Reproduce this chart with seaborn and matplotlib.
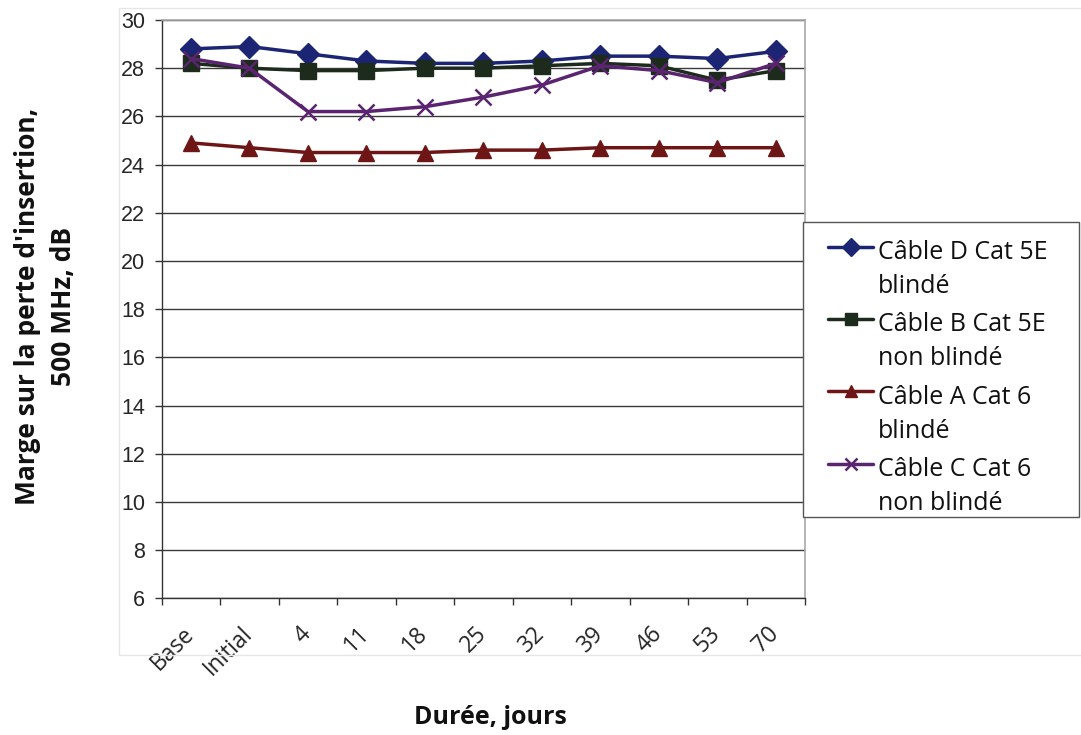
import matplotlib
matplotlib.use("Agg")
import matplotlib.pyplot as plt
import matplotlib.transforms as mtransforms
from matplotlib.patches import Rectangle
from matplotlib.legend_handler import HandlerLine2D
import seaborn as sns
import numpy as np

categories = ["Base", "Initial", "4", "11", "18", "25", "32", "39", "46", "53", "70"]
cable_d = [28.8, 28.9, 28.6, 28.3, 28.2, 28.2, 28.3, 28.5, 28.5, 28.4, 28.7]
cable_b = [28.2, 28.0, 27.9, 27.9, 28.0, 28.0, 28.1, 28.2, 28.1, 27.5, 27.9]
cable_a = [24.9, 24.7, 24.5, 24.5, 24.5, 24.6, 24.6, 24.7, 24.7, 24.7, 24.7]
cable_c = [28.4, 28.0, 26.2, 26.2, 26.4, 26.8, 27.3, 28.1, 27.9, 27.4, 28.2]
series_names = ["Câble D Cat 5E\nblindé", "Câble B Cat 5E\nnon blindé",
                "Câble A Cat 6\nblindé", "Câble C Cat 6\nnon blindé"]
y_ticks = list(range(6, 31, 2))

sns.set_theme(style="white")
plt.rcParams['font.family'] = ['Open Sans', 'DejaVu Sans']

W, H = 1081, 735
fig = plt.figure(figsize=(W / 100, H / 100), dpi=100)

# faint outer chart-area frame
fig.patches.append(Rectangle((119 / W, 1 - 655 / H), (W + 5 - 119) / W, (655 - 8) / H,
                             transform=fig.transFigure, fill=False,
                             edgecolor="#e6e6e6", linewidth=1.0, zorder=0))

ax = fig.add_axes([161.7 / W, 1 - 598.3 / H, (805 - 161.7) / W, (598.3 - 20) / H])

xpos = np.arange(len(categories))
styles = [
    (cable_d, "#1c2573", "D", 11, 1.0),
    (cable_b, "#1d2b1d", "s", 11, 1.0),
    (cable_a, "#6e1616", "^", 11, 1.0),
    (cable_c, "#5a2470", "x", 11, 1.8),
]
for (vals, col, mk, ms, mew), name in zip(styles, series_names):
    sns.lineplot(x=xpos, y=vals, ax=ax, color=col, marker=mk, markersize=ms,
                 markeredgewidth=mew, markeredgecolor=col, linewidth=2.5,
                 label=name, zorder=3)

ax.set_xlim(-0.5, len(categories) - 0.5)
ax.set_ylim(6, 30)
ax.set_yticks(y_ticks)
ax.set_yticklabels([str(t) for t in y_ticks], family=['Liberation Sans'], fontsize=15.5)
ax.yaxis.grid(True, color="#3a3a3a", linewidth=1.0)
ax.set_axisbelow(True)

ax.set_xticks(xpos)
ax.set_xticks(np.arange(-0.5, len(categories), 1.0), minor=True)
ax.tick_params(axis="x", which="major", length=0, pad=17)
ax.tick_params(axis="x", which="minor", length=5, width=1, color="#333333",
               direction="out", bottom=True)
ax.tick_params(axis="y", length=5, width=1, color="#333333", direction="out",
               left=True, pad=7)
ax.set_xticklabels(categories, rotation=45, ha="right", rotation_mode="anchor",
                   fontsize=16.5)
offset = mtransforms.ScaledTranslation(-9 / 100, 0, fig.dpi_scale_trans)
for lbl in ax.get_xticklabels():
    lbl.set_transform(lbl.get_transform() + offset)

for s in ["left", "bottom"]:
    ax.spines[s].set_color("#333333")
    ax.spines[s].set_linewidth(1.0)
for s in ["top", "right"]:
    ax.spines[s].set_color("#a8a8a8")
    ax.spines[s].set_linewidth(1.2)

ax.set_xlabel("")
ax.set_ylabel("")
fig.text(490 / W, 1 - 717 / H, "Durée, jours", fontsize=18, fontweight="bold",
         ha="center", va="center", color="#111111")
fig.text(45.5 / W, 1 - 306 / H, "Marge sur la perte d'insertion,\n500 MHz, dB",
         fontsize=19, fontweight="bold", rotation=90, ha="center", va="center",
         multialignment="center", linespacing=1.4, color="#111111")


class UpHandler(HandlerLine2D):
    def create_artists(self, legend, orig_handle, xdescent, ydescent, width,
                       height, fontsize, trans):
        arts = super().create_artists(legend, orig_handle, xdescent, ydescent,
                                      width, height, fontsize, trans)
        for a in arts:
            a.set_transform(mtransforms.Affine2D().translate(0, 17) + trans)
        return arts


# legend frame and legend
fig.patches.append(Rectangle((803 / W, 1 - 517 / H), (1079 - 803) / W, (517 - 222) / H,
                             transform=fig.transFigure, facecolor="white",
                             edgecolor="#555555", linewidth=1.0, zorder=5))
handles, labels = ax.get_legend_handles_labels()
if ax.get_legend():
    ax.get_legend().remove()
leg = fig.legend(handles, labels, loc="upper left",
                 bbox_to_anchor=(828 / W, 1 - 240 / H),
                 fontsize=18, frameon=False, handlelength=1.8,
                 handletextpad=0.2, labelspacing=0.55, borderpad=0,
                 borderaxespad=0, markerscale=0.8,
                 handler_map={h: UpHandler() for h in handles})
leg.set_zorder(6)
for t in leg.get_texts():
    t.set_linespacing(1.46)
    t.set_color("#111111")

fig.savefig("out.png", dpi=100)
